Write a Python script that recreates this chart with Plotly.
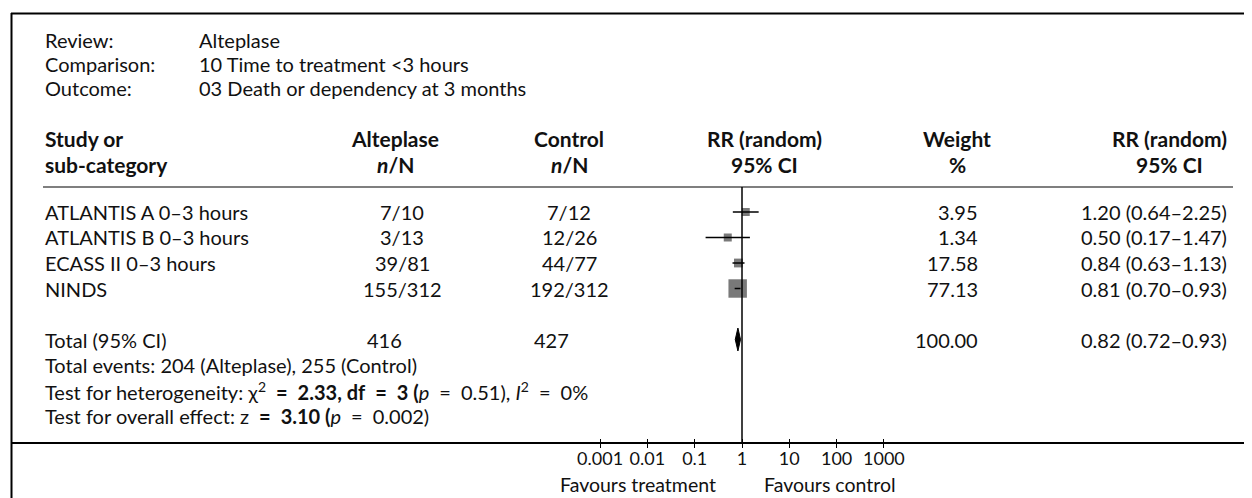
import plotly.graph_objects as go

# ---------------- data ----------------
studies = ["ATLANTIS A 0–3 hours", "ATLANTIS B 0–3 hours", "ECASS II 0–3 hours", "NINDS"]
alt_events = [7, 3, 39, 155]
alt_total = [10, 13, 81, 312]
ctl_events = [7, 12, 44, 192]
ctl_total = [12, 26, 77, 312]
weights = [3.95, 1.34, 17.58, 77.13]
rr = [1.20, 0.50, 0.84, 0.81]
rr_lo = [0.64, 0.17, 0.63, 0.70]
rr_hi = [2.25, 1.47, 1.13, 0.93]

total_label = "Total (95% CI)"
total_alt_n = 416
total_ctl_n = 427
total_events_alt = 204
total_events_ctl = 255
total_weight = 100.00
total_rr = 0.82
total_lo = 0.72
total_hi = 0.93

review_labels = ["Review:", "Comparison:", "Outcome:"]
review_values = ["Alteplase", "10 Time to treatment <3 hours", "03 Death or dependency at 3 months"]

tick_vals = [0.001, 0.01, 0.1, 1, 10, 100, 1000]
tick_text = ["0.001", "0.01", "0.1", "1", "10", "100", "1000"]

# ---------------- layout helpers ----------------
OFF = 8                      # page body margin of the html page
SW, SH = 1252, 498           # screen size
W, H = SW - OFF, SH - OFF    # figure size
FONT = "Lato"
FS = 20
TXT = "#111111"
SP = "\u2002"                # wide space around '=' signs

ROW0_PX = 212.0
ROW_PX = 25.5
DEC_PX = 47.3
ONE_PX = 742.0

def py(s):
    return 1 - (s - OFF) / H

def pxx(s):
    return (s - OFF) / W

fig = go.Figure()

ann = []
def text(s, x, y, anchor="left", size=FS):
    ann.append(dict(text=s, x=pxx(x), y=py(y), xref="paper", yref="paper",
                    xanchor=anchor, yanchor="middle", showarrow=False,
                    font=dict(family=FONT, size=size, color=TXT)))

# review block
for i, (lab, val) in enumerate(zip(review_labels, review_values)):
    y = 40 + 24 * i
    text(lab, 43, y)
    text(val.replace("<", "&lt;"), 197, y)

# headers
h1, h2 = 138, 164
C_ALT_H, C_ALT, C_CTL, C_RR, C_W, C_CI = 395, 402, 569, 764, 957, 1169
HS = 21
text("<b>Study or</b>", 43, h1, size=HS)
text("<b>sub-category</b>", 43, h2, size=HS)
text("<b>Alteplase</b>", C_ALT_H, h1, "center", HS)
text("<b><i>n</i>/N</b>", C_ALT_H, h2, "center", HS)
text("<b>Control</b>", C_CTL, h1, "center", HS)
text("<b><i>n</i>/N</b>", C_CTL, h2, "center", HS)
text("<b>RR (random)</b>", C_RR, h1, "center", HS)
text("<b>95% CI</b>", C_RR, h2, "center", HS)
text("<b>Weight</b>", C_W, h1, "center", HS)
text("<b>%</b>", C_W, h2, "center", HS)
text("<b>RR (random)</b>", C_CI, h1, "center", HS)
text("<b>95% CI</b>", C_CI, h2, "center", HS)

rows = list(range(len(studies)))
row_y = lambda k: ROW0_PX + ROW_PX * k

for k, name in enumerate(studies):
    y = row_y(k)
    text(name, 43, y)
    text(f"{alt_events[k]}/{alt_total[k]}", C_ALT, y, "center")
    text(f"{ctl_events[k]}/{ctl_total[k]}", C_CTL, y, "center")
    text(f"{weights[k]:.2f}", 980, y, "right")
    text(f"{rr[k]:.2f} ({rr_lo[k]:.2f}–{rr_hi[k]:.2f})", 1229, y, "right")

k_tot = len(studies) + 1
yt = row_y(k_tot)
text(total_label, 43, yt)
text(str(total_alt_n), C_ALT - 37, yt)
text(str(total_ctl_n), C_CTL - 37, yt)
text(f"{total_weight:.2f}", 980, yt, "right")
text(f"{total_rr:.2f} ({total_lo:.2f}–{total_hi:.2f})", 1229, yt, "right")
text(f"Total events: {total_events_alt} (Alteplase), {total_events_ctl} (Control)", 43, row_y(k_tot + 1))
eq = f"{SP}={SP}"
text(f"Test for heterogeneity: χ<sup>2</sup><b>{eq}2.33, df{eq}3 (</b><i>p</i>{eq}0.51), "
     f"<i>I</i><sup>2</sup>{eq}0%", 43, row_y(k_tot + 2))
text(f"Test for overall effect: z<b>{eq}3.10 (</b><i>p</i>{eq}0.002)", 43, row_y(k_tot + 3))

# favours labels
text("Favours treatment", 718, 484, "right", 19.5)
text("Favours control", 762, 484, "left", 19.5)

# ---------------- marks ----------------
sizes = [max(8, 2.1 * w ** 0.5) for w in weights]
fig.add_trace(go.Scatter(x=rr, y=rows, mode="markers",
                         marker=dict(symbol="square", size=sizes, color="#404040",
                                     line=dict(width=0)),
                         hoverinfo="skip"))
for k in rows:
    fig.add_trace(go.Scatter(x=[rr_lo[k], rr_hi[k]], y=[k, k], mode="lines",
                             line=dict(color="black", width=1.5), hoverinfo="skip"))

hh = 0.45
fig.add_trace(go.Scatter(x=[total_lo, total_rr, total_hi, total_rr, total_lo],
                         y=[k_tot, k_tot - hh, k_tot, k_tot + hh, k_tot],
                         mode="lines", fill="toself", fillcolor="black",
                         line=dict(color="black", width=1), hoverinfo="skip"))

# invisible traces for the overlaid tick axes
for ax in ("x2", "x3"):
    fig.add_trace(go.Scatter(x=[1], y=[0], xaxis=ax, mode="markers",
                             marker=dict(opacity=0), hoverinfo="skip"))

# ---------------- lines / frame ----------------
shapes = []
def pline(x0, y0, x1, y1, w=1.5, color="black"):
    shapes.append(dict(type="line", xref="paper", yref="paper",
                       x0=pxx(x0), y0=py(y0), x1=pxx(x1), y1=py(y1),
                       line=dict(color=color, width=w)))

pline(11, 13.5, SW, 13.5, 2)          # top border
pline(11.5, 13, 11.5, SH, 2)          # left border
pline(43, 187, 1233, 187, 1.2)        # header rule
pline(11, 443, SW, 443, 1.8)          # bottom rule / axis line
shapes.append(dict(type="line", xref="x", yref="paper", x0=1, x1=1,
                   y0=py(187), y1=py(443), line=dict(color="black", width=1.5)))

x_range = [-(ONE_PX - OFF) / DEC_PX, (SW - ONE_PX) / DEC_PX]
y_range = [(SH - ROW0_PX) / ROW_PX, -(ROW0_PX - OFF) / ROW_PX]

axis_common = dict(type="log", range=x_range, domain=[0, 1], anchor="free",
                   position=py(443), showgrid=False, zeroline=False, showline=False,
                   tickvals=tick_vals, ticktext=tick_text, tickcolor="black",
                   tickwidth=1.3, ticklen=4, tickangle=0)

fig.update_layout(
    width=W, height=H, margin=dict(l=0, r=0, t=0, b=0),
    paper_bgcolor="white", plot_bgcolor="white", showlegend=False,
    xaxis=dict(**axis_common, ticks="", ticklabelstandoff=3,
               tickfont=dict(family=FONT, size=18, color=TXT)),
    xaxis2=dict(**axis_common, ticks="outside", overlaying="x", showticklabels=False),
    xaxis3=dict(**axis_common, ticks="inside", overlaying="x", showticklabels=False),
    yaxis=dict(range=y_range, domain=[0, 1], visible=False, showgrid=False, zeroline=False),
    annotations=ann, shapes=shapes,
)

fig.write_html("out.html")
